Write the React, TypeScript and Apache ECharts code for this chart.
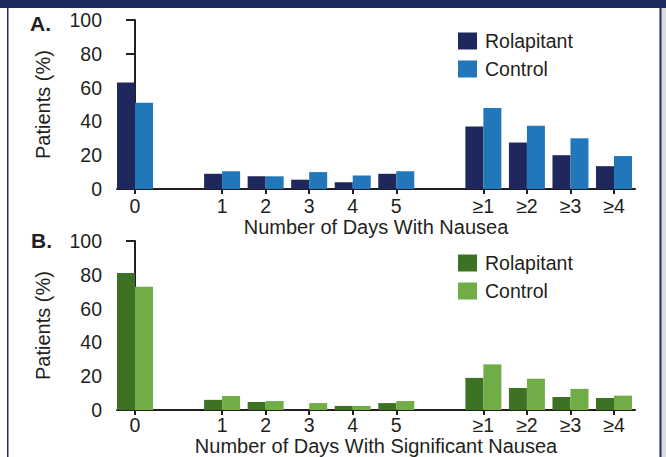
import React, { useEffect, useRef } from 'react';
import * as echarts from 'echarts';

// Category slots ('' marks an empty gap slot on the axis)
const categories = ['0', '', '1', '2', '3', '4', '5', '', '≥1', '≥2', '≥3', '≥4'];

// Panel A: Number of Days With Nausea (% patients)
const nauseaRolapitant = [63, null, 9, 7.5, 5.5, 4, 9, null, 37, 27.5, 20, 13.5];
const nauseaControl = [51, null, 10.5, 7.5, 10, 8, 10.5, null, 48, 37.5, 30, 19.5];

// Panel B: Number of Days With Significant Nausea (% patients)
const sigRolapitant = [81, null, 6, 4.7, 0, 2.4, 4.1, null, 19, 13, 7.7, 7.1];
const sigControl = [73, null, 8.3, 5.3, 4.1, 2.4, 5.3, null, 27, 18.5, 12.5, 8.5];

const seriesNames = ['Rolapitant', 'Control'];
const yTitle = 'Patients (%)';
const xTitleA = 'Number of Days With Nausea';
const xTitleB = 'Number of Days With Significant Nausea';
const panelLabels = ['A.', 'B.'];

const FONT = '"Liberation Sans", Arial, Helvetica, sans-serif';
const INK = '#231f20';
const NAVY = '#1e285c';
const BLUE = '#2276ba';
const DGREEN = '#3d7123';
const LGREEN = '#70ad47';
const FRAME = '#1f2a5e';

const tickIdx = categories.map((c, i) => (c === '' ? -1 : i)).filter((i) => i >= 0);

function toPoints(vals: (number | null)[]) {
  return vals
    .map((v, i) => (v === null ? null : [i, v]))
    .filter((p) => p !== null) as number[][];
}

function xAxisDef(gridIndex: number, name: string, nameGap: number, labelMargin: number) {
  return {
    type: 'value',
    gridIndex,
    min: -0.4134,
    max: 11.482,
    name,
    nameLocation: 'middle',
    nameGap,
    nameTextStyle: { fontSize: 20, color: INK, fontFamily: FONT },
    axisLine: { show: true, onZero: false, lineStyle: { color: INK, width: 2 } },
    axisTick: { show: true, customValues: tickIdx, length: 5, lineStyle: { color: INK, width: 2 } },
    axisLabel: {
      customValues: tickIdx,
      formatter: (v: number) => categories[Math.round(v)] ?? '',
      fontSize: 19.5,
      color: INK,
      fontFamily: FONT,
      margin: labelMargin,
    },
    splitLine: { show: false },
  };
}

function yAxisDef(gridIndex: number) {
  return {
    type: 'value',
    gridIndex,
    min: 0,
    max: 100,
    interval: 20,
    name: yTitle,
    nameLocation: 'middle',
    nameGap: 64,
    nameTextStyle: { fontSize: 20, color: INK, fontFamily: FONT },
    axisLine: { show: true, lineStyle: { color: INK, width: 2 } },
    axisTick: { show: true, length: 9, lineStyle: { color: INK, width: 2 } },
    axisLabel: { fontSize: 19.5, color: INK, fontFamily: FONT, margin: 15 },
    splitLine: { show: false },
  };
}

function barSeries(name: string, vals: (number | null)[], color: string, idx: number) {
  return {
    type: 'bar',
    name,
    xAxisIndex: idx,
    yAxisIndex: idx,
    data: toPoints(vals),
    barWidth: 18,
    barGap: '0%',
    itemStyle: { color },
    emphasis: { disabled: true },
  };
}

function legendDef(top: number, colors: string[]) {
  return {
    orient: 'vertical',
    left: 458,
    top,
    padding: 0,
    itemWidth: 19,
    itemHeight: 17,
    itemGap: 8,
    selectedMode: false,
    icon: 'rect',
    textStyle: { fontSize: 19.5, color: INK, fontFamily: FONT, padding: [0, 0, 0, 3] },
    data: seriesNames.map((n, i) => ({ name: n, itemStyle: { color: colors[i] } })),
  };
}

export default function App() {
  const ref = useRef<HTMLDivElement>(null);
  useEffect(() => {
    if (!ref.current) return;
    const chart = echarts.init(ref.current, undefined, { renderer: 'svg' });
    chart.setOption({
      animation: false,
      backgroundColor: '#ffffff',
      grid: [
        { left: 117, top: 20, width: 518, height: 169 },
        { left: 117, top: 241, width: 518, height: 169 },
      ],
      xAxis: [xAxisDef(0, xTitleA, 27, 7), xAxisDef(1, xTitleB, 25, 5)],
      yAxis: [yAxisDef(0), yAxisDef(1)],
      legend: [legendDef(31, [NAVY, BLUE]), legendDef(253, [DGREEN, LGREEN])],
      series: [
        barSeries(seriesNames[0], nauseaRolapitant, NAVY, 0),
        barSeries(seriesNames[1], nauseaControl, BLUE, 0),
        barSeries(seriesNames[0], sigRolapitant, DGREEN, 1),
        barSeries(seriesNames[1], sigControl, LGREEN, 1),
      ],
      graphic: [
        { type: 'rect', shape: { x: 0, y: 0, width: 666, height: 8 }, style: { fill: FRAME }, silent: true },
        { type: 'rect', shape: { x: 7, y: 8, width: 1.5, height: 449 }, style: { fill: FRAME }, silent: true },
        { type: 'rect', shape: { x: 659.5, y: 8, width: 2.2, height: 449 }, style: { fill: FRAME }, silent: true },
        { type: 'rect', shape: { x: 661.7, y: 8, width: 4.3, height: 449 }, style: { fill: '#dcdcdc' }, silent: true },
        {
          type: 'text',
          x: 30,
          y: 23,
          style: { text: panelLabels[0], font: `bold 21px ${FONT}`, fill: INK, verticalAlign: 'middle' },
        },
        {
          type: 'text',
          x: 31,
          y: 240.5,
          style: { text: panelLabels[1], font: `bold 21px ${FONT}`, fill: INK, verticalAlign: 'middle' },
        },
      ],
    });
    return () => chart.dispose();
  }, []);
  return (
    <div
      ref={ref}
      style={{ position: 'absolute', left: 0, top: 0, width: 666, height: 457 }}
    />
  );
}
